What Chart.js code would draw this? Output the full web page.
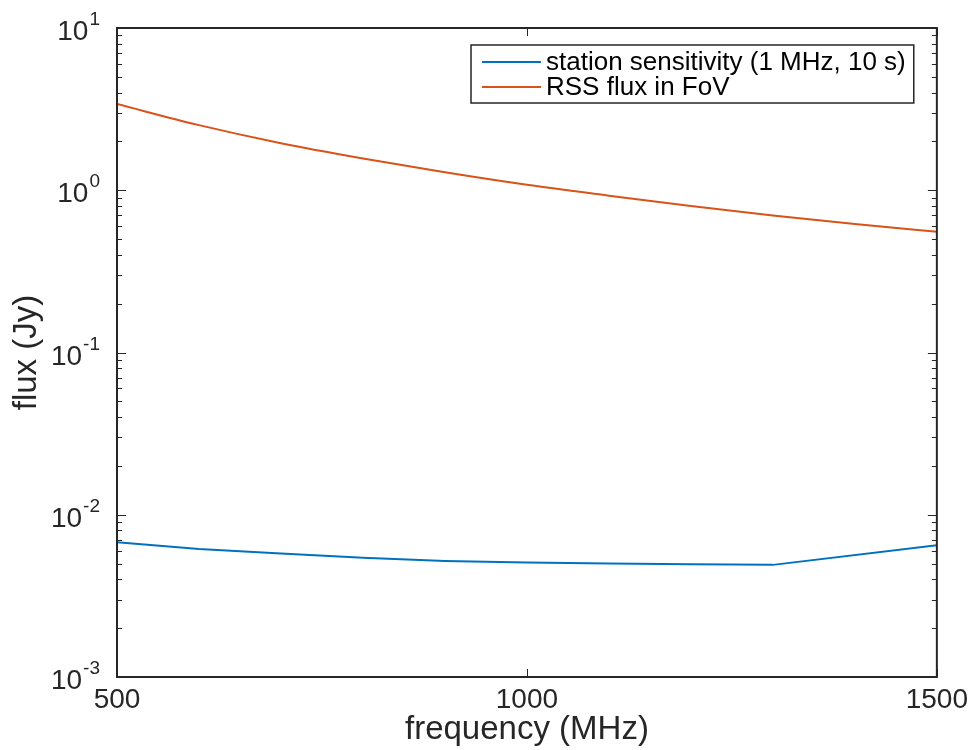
<!DOCTYPE html>
<html>
<head>
<meta charset="utf-8">
<script src="https://cdn.jsdelivr.net/npm/chart.js@4.4.1/dist/chart.umd.min.js"></script>
<style>
  html, body { margin: 0; padding: 0; background: #fff; }
</style>
</head>
<body>
<canvas id="chart" width="974" height="750"></canvas>
<script>
// values
const rssFreq = [500, 600, 700, 800, 900, 1000, 1100, 1200, 1300, 1400, 1500];
const rssFlux = [3.40, 2.52, 1.95, 1.57, 1.29, 1.08, 0.926, 0.80, 0.70, 0.62, 0.555];

const sensFreq = [500, 600, 700, 800, 900, 1000, 1100, 1200, 1300, 1500];
const sensFlux = [0.00678, 0.00615, 0.00578, 0.00543, 0.00519, 0.00508, 0.00500, 0.00495, 0.00491, 0.00648];

const xTicks = [500, 1000, 1500];
const yTicks = [0.001, 0.01, 0.1, 1, 10];
const yTickExp = ['-3', '-2', '-1', '0', '1'];
const yMinor = [2, 3, 4, 5, 6, 7, 8, 9];

const seriesLabels = ['station sensitivity (1 MHz, 10 s)', 'RSS flux in FoV'];
const seriesColors = ['#0072BD', '#D95319'];

const ink = '#262626';
const fontFam = '"Liberation Sans", Arial, Helvetica, sans-serif';

const toPoints = (xs, ys) => xs.map((x, i) => ({ x: x, y: ys[i] }));

// frame, inside ticks, superscript y labels and legend box, matlab style
const matlabAxes = {
  id: 'matlabAxes',
  afterDraw(chart) {
    const c = chart.ctx;
    const a = chart.chartArea;
    const xs = chart.scales.x;
    const ys = chart.scales.y;
    c.save();
    c.strokeStyle = ink;
    c.lineWidth = 1;

    // y ticks, both sides
    c.beginPath();
    yTicks.forEach((d, i) => {
      const py = Math.round(ys.getPixelForValue(d)) + 0.5;
      c.moveTo(a.left, py); c.lineTo(a.left + 9, py);
      c.moveTo(a.right, py); c.lineTo(a.right - 9, py);
      if (i < yTicks.length - 1) {
        yMinor.forEach(m => {
          const pm = Math.round(ys.getPixelForValue(d * m)) + 0.5;
          c.moveTo(a.left, pm); c.lineTo(a.left + 5, pm);
          c.moveTo(a.right, pm); c.lineTo(a.right - 5, pm);
        });
      }
    });
    // x ticks, top and bottom
    xTicks.forEach(v => {
      const px = Math.round(xs.getPixelForValue(v)) + 0.5;
      c.moveTo(px, a.bottom); c.lineTo(px, a.bottom - 8);
      c.moveTo(px, a.top); c.lineTo(px, a.top + 8);
    });
    c.stroke();

    // box
    c.lineWidth = 2;
    c.strokeRect(a.left, a.top, a.right - a.left, a.bottom - a.top);

    // y tick labels 10^n
    c.fillStyle = ink;
    c.textBaseline = 'alphabetic';
    yTicks.forEach((d, i) => {
      const py = ys.getPixelForValue(d);
      const right = a.left - 17;
      c.font = '19px ' + fontFam;
      const ew = c.measureText(yTickExp[i]).width;
      c.textAlign = 'left';
      c.fillText(yTickExp[i], right - ew, py - 3);
      c.font = '28px ' + fontFam;
      c.textAlign = 'right';
      c.fillText('10', right - ew - 1, py + 12);
    });

    // legend
    c.font = '26px ' + fontFam;
    let tw = 0;
    seriesLabels.forEach(s => { tw = Math.max(tw, c.measureText(s).width); });
    const bx = 471, by = 45, lx0 = 482, lx1 = 541, tx = 546;
    const bw = tx + tw + 8 - bx, bh = 58;
    c.fillStyle = '#fff';
    c.fillRect(bx, by, bw, bh);
    c.lineWidth = 1.5;
    c.strokeStyle = ink;
    c.strokeRect(bx, by, bw, bh);
    seriesLabels.forEach((s, i) => {
      const ly = by + 17 + i * 25;
      c.strokeStyle = seriesColors[i];
      c.lineWidth = 2;
      c.beginPath();
      c.moveTo(lx0, ly); c.lineTo(lx1, ly);
      c.stroke();
      c.fillStyle = '#000';
      c.textAlign = 'left';
      c.textBaseline = 'middle';
      c.fillText(s, tx, ly + 1);
    });
    c.restore();
  }
};

new Chart(document.getElementById('chart').getContext('2d'), {
  type: 'line',
  data: {
    datasets: [{
      label: seriesLabels[0],
      data: toPoints(sensFreq, sensFlux),
      borderColor: seriesColors[0],
      backgroundColor: seriesColors[0],
      borderWidth: 2,
      pointRadius: 0,
      tension: 0,
      fill: false
    }, {
      label: seriesLabels[1],
      data: toPoints(rssFreq, rssFlux),
      borderColor: seriesColors[1],
      backgroundColor: seriesColors[1],
      borderWidth: 2,
      pointRadius: 0,
      cubicInterpolationMode: 'monotone',
      fill: false
    }]
  },
  options: {
    responsive: false,
    animation: false,
    devicePixelRatio: 1,
    layout: {
      padding: { top: 28, right: 37, bottom: 0, left: 0 }
    },
    plugins: {
      legend: { display: false },
      tooltip: { enabled: false }
    },
    scales: {
      x: {
        type: 'linear',
        min: 500,
        max: 1500,
        afterBuildTicks: s => { s.ticks = xTicks.map(v => ({ value: v })); },
        afterFit: s => { s.height = 73; },
        grid: { display: false, drawTicks: false, tickLength: 0 },
        border: { display: false },
        ticks: {
          color: ink,
          padding: 6,
          maxRotation: 0,
          font: { size: 28, family: fontFam },
          callback: v => String(v)
        },
        title: {
          display: true,
          text: 'frequency (MHz)',
          color: ink,
          padding: { top: 0, bottom: 0 },
          font: { size: 33, family: fontFam }
        }
      },
      y: {
        type: 'logarithmic',
        min: 0.001,
        max: 10,
        afterFit: s => { s.width = 117; },
        grid: { display: false, drawTicks: false },
        border: { display: false },
        ticks: { display: false },
        title: {
          display: true,
          text: 'flux (Jy)',
          color: ink,
          padding: { top: 7, bottom: 0 },
          font: { size: 33, family: fontFam }
        }
      }
    }
  },
  plugins: [matlabAxes]
});
</script>
</body>
</html>
